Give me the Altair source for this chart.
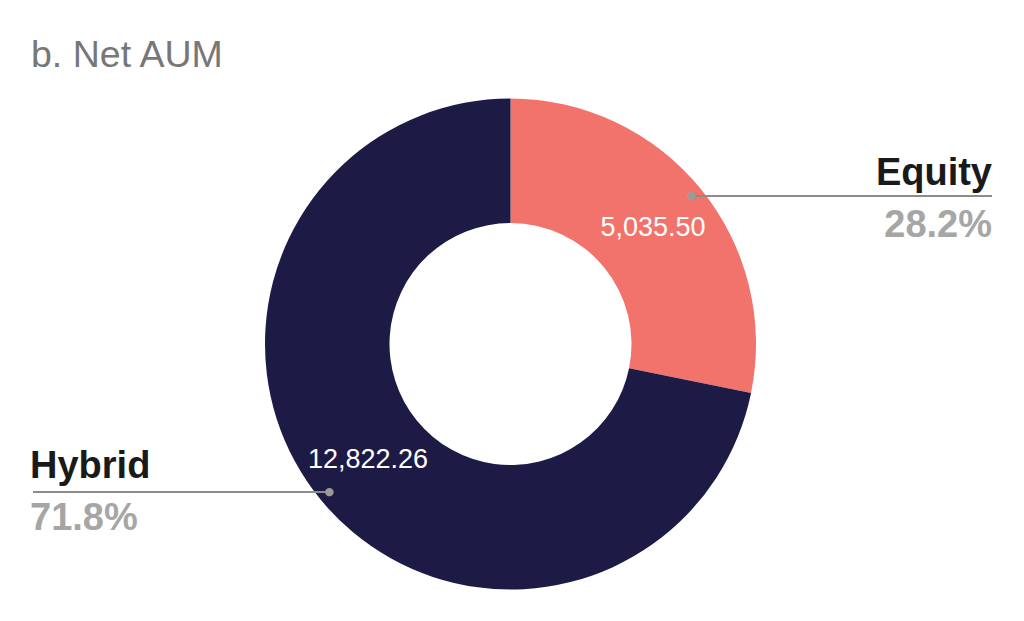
import altair as alt
import pandas as pd

categories = ["Equity", "Hybrid"]
values = [5035.50, 12822.26]
order = [1, 2]
colors = ["#F2736B", "#1E1A46"]

df = pd.DataFrame({"category": categories, "value": values, "order": order})

FONT = "Liberation Sans"
CX, CY = 502.5, 336

base = alt.Chart(df).transform_joinaggregate(
    total="sum(value)"
).transform_calculate(
    pct="format(datum.value / datum.total, '.1%')",
    vlabel="format(datum.value, ',.2f')",
)

theta = alt.Theta("value:Q", stack=True)

donut = base.mark_arc(outerRadius=245.5, innerRadius=121).encode(
    theta=theta,
    color=alt.Color("category:N", scale=alt.Scale(domain=categories, range=colors), legend=None),
    order=alt.Order("order:Q"),
    x=alt.value(CX),
    y=alt.value(CY),
)

value_text = base.mark_text(
    radius=184, font=FONT, fontSize=27, color="white", baseline="middle", align="center"
).encode(
    theta=theta,
    detail="category:N",
    order=alt.Order("order:Q"),
    text="vlabel:N",
    x=alt.value(CX),
    y=alt.value(CY),
)

dots = base.mark_text(
    radius=234, font="DejaVu Sans", fontSize=11, color="#9a9a9a", baseline="middle", align="center", text="●"
).encode(
    theta=theta,
    detail="category:N",
    order=alt.Order("order:Q"),
    x=alt.value(CX),
    y=alt.value(CY),
)

eq = base.transform_filter(alt.datum.category == "Equity")
hy = base.transform_filter(alt.datum.category == "Hybrid")

eq_name = eq.mark_text(font=FONT, fontSize=38, fontWeight="bold", color="#1a1a1a", align="right", baseline="alphabetic").encode(
    x=alt.value(984), y=alt.value(177), text="category:N")
eq_pct = eq.mark_text(font=FONT, fontSize=38, fontWeight="bold", color="#a6a6a6", align="right", baseline="alphabetic").encode(
    x=alt.value(984), y=alt.value(229), text="pct:N")
eq_rule = eq.mark_rule(color="#8c8c8c", strokeWidth=2).encode(
    x=alt.value(686), x2=alt.value(984), y=alt.value(188))

hy_name = hy.mark_text(font=FONT, fontSize=38, fontWeight="bold", color="#1a1a1a", align="left", baseline="alphabetic").encode(
    x=alt.value(22), y=alt.value(470), text="category:N")
hy_pct = hy.mark_text(font=FONT, fontSize=38, fontWeight="bold", color="#a6a6a6", align="left", baseline="alphabetic").encode(
    x=alt.value(22), y=alt.value(522), text="pct:N")
hy_rule = hy.mark_rule(color="#8c8c8c", strokeWidth=2).encode(
    x=alt.value(25), x2=alt.value(322), y=alt.value(484))

title = alt.Chart(pd.DataFrame({"t": ["b. Net AUM"]})).mark_text(
    font=FONT, fontSize=37.5, color="#777777", align="left", baseline="alphabetic"
).encode(x=alt.value(23), y=alt.value(59), text="t:N")

chart = alt.layer(
    donut, eq_rule, hy_rule, dots, value_text, eq_name, eq_pct, hy_name, hy_pct, title
).properties(
    width=1008, height=605, padding=0, autosize=alt.AutoSizeParams(type="none")
).configure_view(stroke=None)

chart.save("out.html", embed_options={"renderer": "svg", "actions": False})
